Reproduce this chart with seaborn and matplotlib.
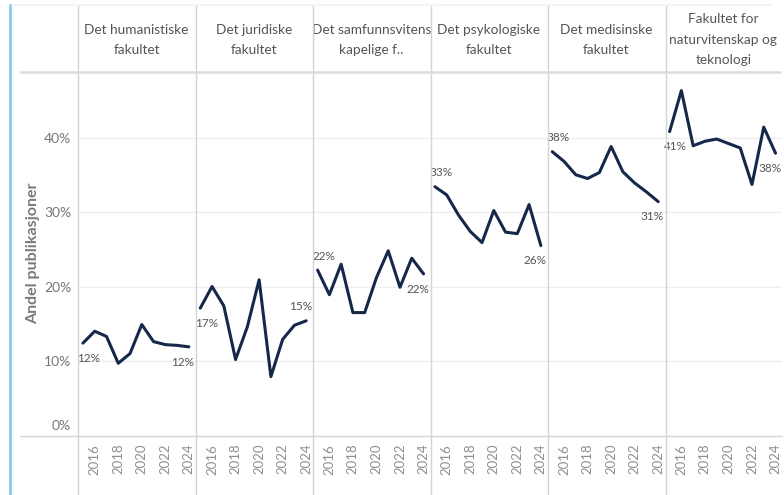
import matplotlib
matplotlib.use("Agg")
import matplotlib.pyplot as plt
from matplotlib.lines import Line2D
import matplotlib.transforms as mtransforms
import seaborn as sns
import pandas as pd

years = [2015, 2016, 2017, 2018, 2019, 2020, 2021, 2022, 2023, 2024]
faculties = [
    "Det humanistiske\nfakultet",
    "Det juridiske\nfakultet",
    "Det samfunnsvitens\nkapelige f..",
    "Det psykologiske\nfakultet",
    "Det medisinske\nfakultet",
    "Fakultet for\nnaturvitenskap og\nteknologi",
]
hum = [12.4, 14.0, 13.3, 9.7, 11.0, 14.9, 12.6, 12.2, 12.1, 11.9]
jur = [17.1, 20.0, 17.4, 10.2, 14.6, 20.9, 7.9, 12.9, 14.8, 15.4]
sam = [22.2, 18.9, 23.0, 16.5, 16.5, 21.2, 24.8, 19.9, 23.8, 21.7]
psy = [33.4, 32.3, 29.6, 27.4, 25.9, 30.2, 27.3, 27.1, 31.0, 25.5]
med = [38.1, 36.8, 35.0, 34.5, 35.3, 38.8, 35.4, 33.9, 32.7, 31.4]
nat = [40.8, 46.3, 38.9, 39.5, 39.8, 39.2, 38.6, 33.7, 41.4, 37.9]
series = [hum, jur, sam, psy, med, nat]
ytick_vals = [0, 10, 20, 30, 40]
ytick_labels = ["0%", "10%", "20%", "30%", "40%"]
xtick_vals = [2016, 2018, 2020, 2022, 2024]

df = pd.DataFrame({
    "faculty": [f for f, s in zip(faculties, series) for _ in s],
    "year": [y for s in series for y in years],
    "share": [v for s in series for v in s],
})

sns.set_theme(style="white")
plt.rcParams["font.family"] = ["Lato", "DejaVu Sans"]

navy = "#16284a"
W, H = 784, 495
g = sns.relplot(data=df, x="year", y="share", col="faculty", kind="line",
                color=navy, linewidth=2.2, height=4, aspect=0.5,
                facet_kws=dict(sharey=True, sharex=True))
fig = g.figure
fig.set_size_inches(W / 100, H / 100)
fig.set_dpi(100)
fig.subplots_adjust(left=78 / W, right=782 / W, bottom=(H - 435.5) / H,
                    top=(H - 72) / H, wspace=0)

# label placement: (start above?, end above?)
place = [(False, False), (False, True), (True, False),
         (True, False), (True, False), (False, False)]

for i, (ax, name, s) in enumerate(zip(g.axes.flat, faculties, series)):
    ax.set_title("")
    ax.set_xlim(2014.58, 2024.55)
    ax.set_ylim(0, 48.8)
    ax.set_yticks(ytick_vals)
    ax.set_yticklabels(ytick_labels)
    ax.set_xticks(xtick_vals)
    ax.set_xticklabels([str(x) for x in xtick_vals], rotation=90)
    ax.tick_params(axis="x", length=0, pad=6, labelsize=9.5, colors="#8f8f8f")
    ax.tick_params(axis="y", length=0, pad=5, labelsize=10, colors="#777777",
                   labelleft=(i == 0))
    ax.set_xlabel("")
    ax.set_ylabel("")
    for sp in ax.spines.values():
        sp.set_visible(False)
    for yv in [10, 20, 30, 40]:
        ax.axhline(yv, color="#efefef", linewidth=1, zorder=0)
    ax.text(0.5, 1 + 32 / 363.5, name, transform=ax.transAxes, ha="center",
            va="center", fontsize=9.8, color="#555555", linespacing=1.85)
    sa, ea = place[i]
    ax.annotate(f"{round(s[0])}%", (years[0], s[0]), xytext=(-4, 6 if sa else -7),
                textcoords="offset points", ha="left",
                va="bottom" if sa else "top", fontsize=8.5, color="#555555")
    ax.annotate(f"{round(s[-1])}%", (years[-1], s[-1]), xytext=(4, 6 if ea else -7),
                textcoords="offset points", ha="right",
                va="bottom" if ea else "top", fontsize=8.5, color="#555555")

# raise the 0% label like the reference
ax0 = g.axes.flat[0]
lbl0 = ax0.get_yticklabels()[0]
lbl0.set_transform(lbl0.get_transform() +
                   mtransforms.ScaledTranslation(0, 11 / 100, fig.dpi_scale_trans))

# panel dividers
for xp in [78, 195.5, 313, 430.5, 548, 665.5]:
    fig.add_artist(Line2D([xp / W, xp / W], [0, 1 - 5 / H], transform=fig.transFigure,
                          color="#d4d4d4", linewidth=1))
# header bottom line and axis line
fig.add_artist(Line2D([20 / W, 780 / W], [1 - 72 / H, 1 - 72 / H], transform=fig.transFigure,
                      color="#dcdcdc", linewidth=1.8))
fig.add_artist(Line2D([20 / W, 782 / W], [1 - 435.5 / H, 1 - 435.5 / H],
                      transform=fig.transFigure, color="#d4d4d4", linewidth=1))
# top border and left accent
fig.add_artist(Line2D([10 / W, 770 / W], [1 - 5 / H, 1 - 5 / H], transform=fig.transFigure,
                      color="#eef5fb", linewidth=1.5))
fig.add_artist(Line2D([10 / W, 10 / W], [0, 1 - 5 / H], transform=fig.transFigure,
                      color="#8cc8f0", linewidth=2))

fig.text(33 / W, 1 - 253 / H, "Andel publikasjoner", rotation=90, ha="center",
         va="center", fontsize=11.5, fontweight="bold", color="#7a7a7a")

fig.savefig("out.png", dpi=100)
